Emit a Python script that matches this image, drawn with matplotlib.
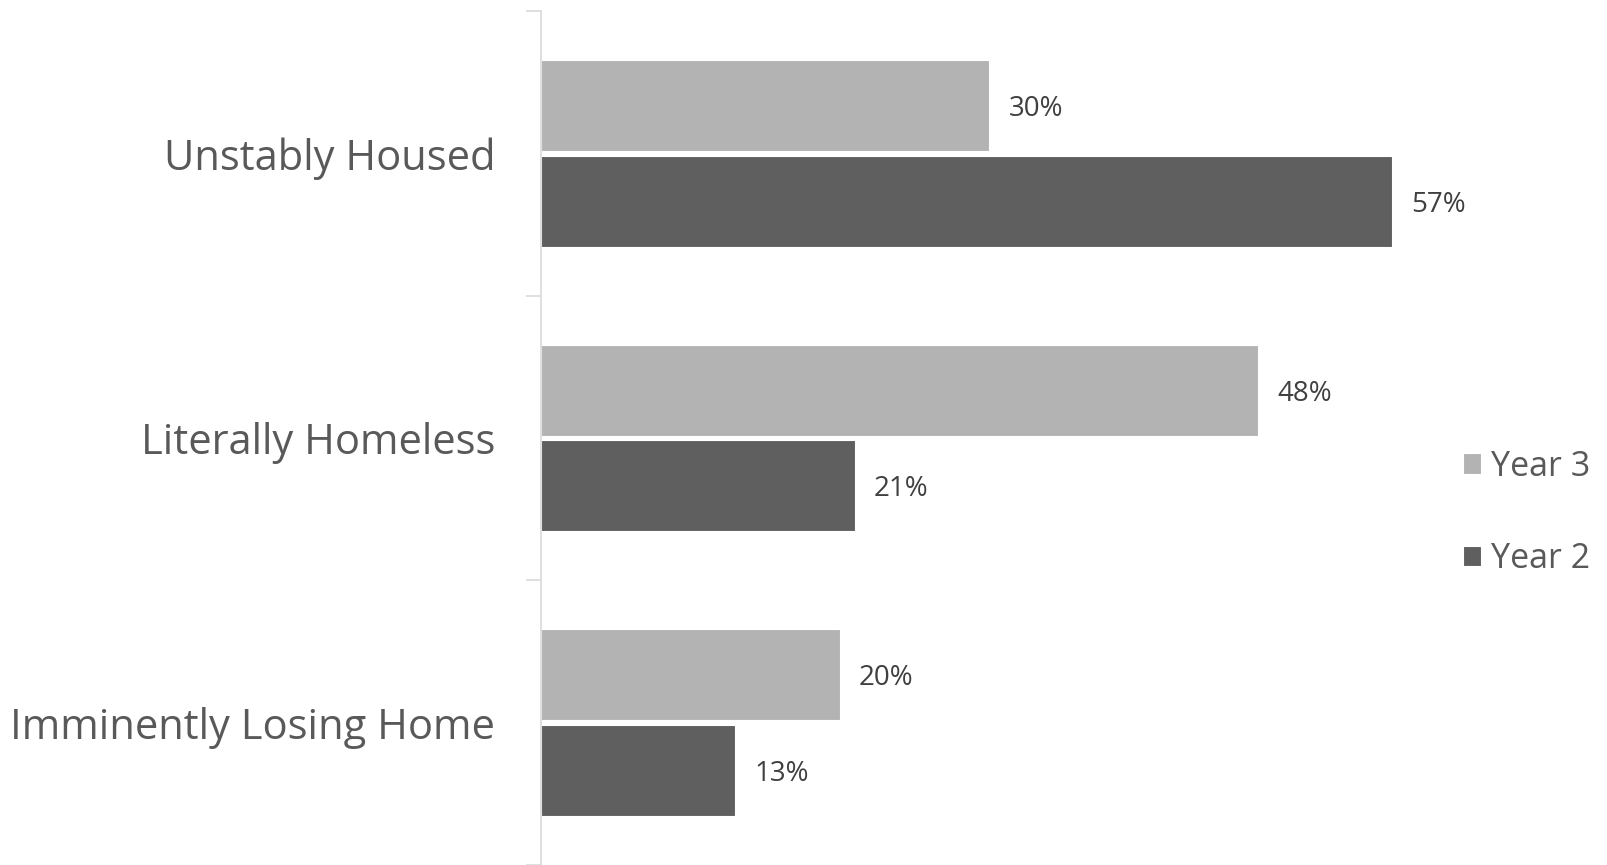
import matplotlib
matplotlib.use("Agg")
import matplotlib.pyplot as plt
import numpy as np

plt.rcParams['font.family'] = ['Open Sans', 'DejaVu Sans']

categories = ["Unstably Housed", "Literally Homeless", "Imminently Losing Home"]
year3 = [30, 48, 20]
year2 = [57, 21, 13]
series_names = ["Year 3", "Year 2"]
colors = ["#b3b3b3", "#5f5f5f"]

fig = plt.figure(figsize=(16.07, 8.65), dpi=100)
ax = fig.add_axes([541 / 1607, 0.0, 896 / 1607, 854 / 865])

y = np.arange(len(categories))[::-1].astype(float)
h = 0.32
off = 0.168

b3 = ax.barh(y + off, year3, height=h, color=colors[0], edgecolor="white", linewidth=0.8, label=series_names[0])
b2 = ax.barh(y - off, year2, height=h, color=colors[1], edgecolor="white", linewidth=0.8, label=series_names[1])

for bars, vals in ((b3, year3), (b2, year2)):
    for rect, v in zip(bars, vals):
        ax.annotate(f"{v}%", (v, rect.get_y() + rect.get_height() / 2),
                    xytext=(14, -2.5), textcoords="offset points",
                    va="center", ha="left", fontsize=20, color="#404040")

ax.set_xlim(0, 60)
ax.set_ylim(-0.5, 2.5)

for s in ("top", "right", "bottom"):
    ax.spines[s].set_visible(False)
ax.spines["left"].set_color("#d9d9d9")
ax.spines["left"].set_linewidth(1.2)
ax.set_xticks([])

ax.set_yticks(y)
ax.set_yticklabels(categories, fontsize=30, color="#595959")
ax.tick_params(axis="y", which="major", length=0, pad=33)
ax.set_yticks([-0.5, 0.5, 1.5, 2.5], minor=True)
ax.tick_params(axis="y", which="minor", length=11, width=1.2, color="#d9d9d9")

leg = fig.legend(handles=[b3, b2], labels=series_names, loc="center left",
                 bbox_to_anchor=(1463 / 1607, 1 - 513 / 865), frameon=False,
                 borderaxespad=0, borderpad=0,
                 fontsize=24.5, handlelength=0.53, handleheight=0.53,
                 handletextpad=0.3, labelspacing=1.73, labelcolor="#595959")

fig.savefig("out.png", dpi=100, facecolor="white")
